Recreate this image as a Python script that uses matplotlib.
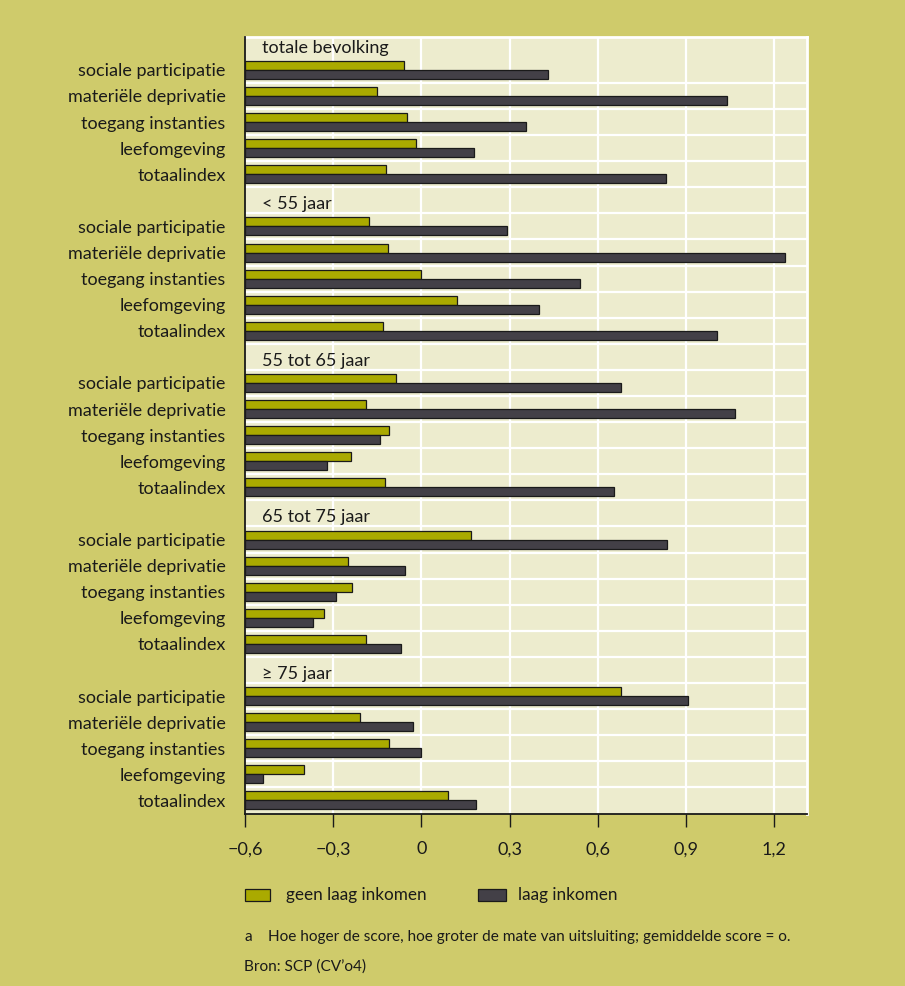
import matplotlib
matplotlib.use("Agg")
import matplotlib.pyplot as plt
from matplotlib.patches import Rectangle
import matplotlib.transforms as mtransforms

plt.rcParams['font.family'] = ['Lato', 'DejaVu Sans']

# ---- data ----
groups = ["totale bevolking", "< 55 jaar", "55 tot 65 jaar", "65 tot 75 jaar", "\u2265 75 jaar"]
categories = ["sociale participatie", "materi\u00eble deprivatie", "toegang instanties",
              "leefomgeving", "totaalindex"]

geen_totaal = [-0.06, -0.15, -0.05, -0.02, -0.12]
laag_totaal = [0.43, 1.04, 0.355, 0.18, 0.83]
geen_lt55 = [-0.18, -0.115, 0.0, 0.12, -0.13]
laag_lt55 = [0.29, 1.235, 0.54, 0.40, 1.005]
geen_55_65 = [-0.085, -0.19, -0.11, -0.24, -0.125]
laag_55_65 = [0.68, 1.065, -0.14, -0.32, 0.655]
geen_65_75 = [0.17, -0.25, -0.235, -0.33, -0.19]
laag_65_75 = [0.835, -0.055, -0.29, -0.37, -0.07]
geen_ge75 = [0.68, -0.21, -0.11, -0.40, 0.09]
laag_ge75 = [0.905, -0.03, 0.0, -0.54, 0.185]

geen_all = [geen_totaal, geen_lt55, geen_55_65, geen_65_75, geen_ge75]
laag_all = [laag_totaal, laag_lt55, laag_55_65, laag_65_75, laag_ge75]

xticks = [-0.6, -0.3, 0, 0.3, 0.6, 0.9, 1.2]
xticklabels = ["\u22120,6", "\u22120,3", "0", "0,3", "0,6", "0,9", "1,2"]
legend_labels = ["geen laag inkomen", "laag inkomen"]
footnote = "Hoe hoger de score, hoe groter de mate van uitsluiting; gemiddelde score = o."
source = "Bron: SCP (CV\u2019o4)"

# ---- style ----
BG = "#cfcb6b"
PLOT_BG = "#edecce"
C_GEEN = "#aaaa00"
C_LAAG = "#434047"
TXT = "#1a1a1a"
XMIN, XMAX = -0.6, 1.31

fig = plt.figure(figsize=(9.05, 9.86), dpi=100, facecolor=BG)
W, H = 905, 986
ax = fig.add_axes([245 / W, 1 - 813.5 / H, (806.7 - 245) / W, (813.5 - 37) / H])
ax.set_facecolor(PLOT_BG)

top = 28 + 46 / 26.15
ax.set_xlim(XMIN, XMAX)
ax.set_ylim(0, top)
ax.set_autoscale_on(False)

bh = 0.345
ytick_pos, ytick_lab = [], []
tr = mtransforms.blended_transform_factory(ax.transAxes, ax.transData)
for g, (gname, gv, lv) in enumerate(zip(groups, geen_all, laag_all)):
    hr = 6 * g
    yh = 29.5 - hr - 0.15
    ax.text(17 / 561.7, yh, gname, transform=tr,
            ha="left", va="center", fontsize=13, color=TXT, zorder=4)
    for c, cat in enumerate(categories):
        r = hr + 1 + c
        yc = 29.5 - r
        ax.barh(yc + bh / 2, gv[c] - XMIN, left=XMIN, height=bh, color=C_GEEN,
                edgecolor=TXT, linewidth=0.9, zorder=3)
        ax.barh(yc - bh / 2, lv[c] - XMIN, left=XMIN, height=bh, color=C_LAAG,
                edgecolor=TXT, linewidth=0.9, zorder=3)
        ytick_pos.append(yc)
        ytick_lab.append(cat)

for yl in range(1, 29):
    ax.axhline(yl, color="white", lw=1.6, zorder=1)
for xv in xticks[1:]:
    ax.axvline(xv, color="white", lw=1.6, zorder=1)

ax.set_yticks(ytick_pos)
ax.set_yticklabels(ytick_lab, fontsize=13, color=TXT)
ax.tick_params(axis="y", length=0, pad=14)
ax.set_xticks(xticks)
ax.set_xticklabels(xticklabels, fontsize=13, color=TXT)
ax.tick_params(axis="x", direction="out", length=9, width=1.0, color=TXT, pad=11)

for s in ["top", "right"]:
    ax.spines[s].set_color("white")
    ax.spines[s].set_linewidth(2)
for s in ["left", "bottom"]:
    ax.spines[s].set_color(TXT)
    ax.spines[s].set_linewidth(1.3)
    ax.spines[s].set_zorder(5)

# legend
def fx(px):
    return px / W

def fy(py):
    return 1 - py / H

fig.patches.append(Rectangle((fx(245), fy(901)), fx(270) - fx(245), fy(889) - fy(901),
                             transform=fig.transFigure, facecolor=C_GEEN, edgecolor=TXT, lw=0.9))
fig.text(fx(286), fy(895), legend_labels[0], fontsize=12.3, va="center", ha="left", color=TXT)
fig.patches.append(Rectangle((fx(478), fy(901)), fx(506) - fx(478), fy(889) - fy(901),
                             transform=fig.transFigure, facecolor=C_LAAG, edgecolor=TXT, lw=0.9))
fig.text(fx(518), fy(895), legend_labels[1], fontsize=12.3, va="center", ha="left", color=TXT)

fig.text(fx(244), fy(937), "a", fontsize=11.1, va="center", ha="left", color=TXT)
fig.text(fx(268), fy(937), footnote, fontsize=11.1, va="center", ha="left", color=TXT)
fig.text(fx(244), fy(967), source, fontsize=11.1, va="center", ha="left", color=TXT)

fig.savefig("out.png", dpi=100, facecolor=BG)
